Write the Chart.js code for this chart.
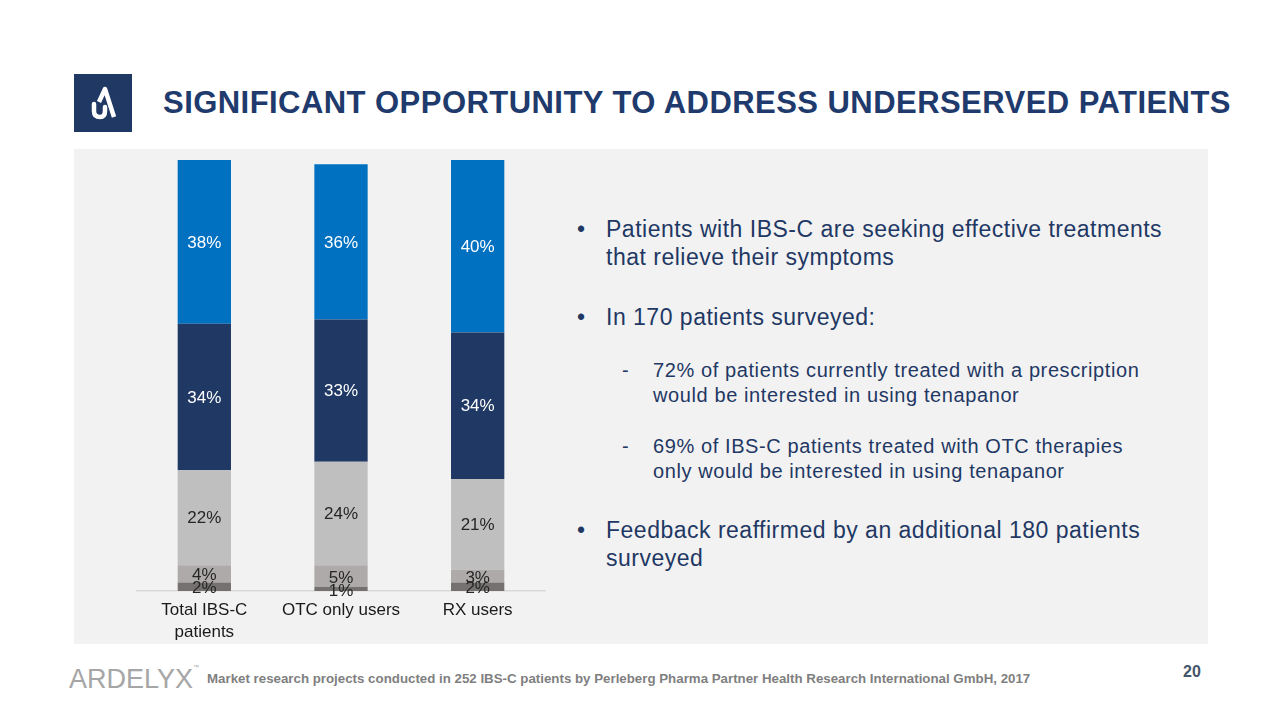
<!DOCTYPE html>
<html>
<head>
<meta charset="utf-8">
<script src="https://cdn.jsdelivr.net/npm/chart.js@4.4.1/dist/chart.umd.min.js"></script>
<style>
  body { margin: 0; width: 1280px; height: 720px; background: #ffffff; font-family: "Liberation Sans", Arial, sans-serif; position: relative; overflow: hidden; }
  .abs { position: absolute; }
  #panel { left: 74px; top: 149px; width: 1134px; height: 495px; background: #f2f2f2; }
  #title { left: 163px; top: 85px; font-size: 31px; font-weight: bold; color: #1f3a6c; white-space: nowrap; letter-spacing: 0.45px; }
  #logo { left: 74px; top: 74px; width: 58px; height: 58px; background: #1f3864; }
  #chartBox { left: 136px; top: 160px; width: 410px; height: 485px; }
  .bul { color: #1f3864; font-size: 23px; line-height: 28px; letter-spacing: 0.5px; left: 606px; width: 580px; }
  .bul::before { content: "\2022"; position: absolute; left: -29px; }
  .sub { color: #1f3864; font-size: 20px; line-height: 25px; letter-spacing: 0.6px; left: 653px; width: 500px; }
  .sub::before { content: "-"; position: absolute; left: -31px; }
  #foot { left: 207px; top: 671px; font-size: 13.3px; font-weight: bold; color: #7f7f7f; white-space: nowrap; }
  #page { left: 1183px; top: 663px; font-size: 16px; font-weight: bold; color: #44546a; }
  #ardelyx { left: 69px; top: 664px; font-size: 27px; color: #a6a6a6; }
</style>
</head>
<body>
<div id="panel" class="abs"></div>
<div id="logo" class="abs">
  <svg width="58" height="58" viewBox="0 0 58 58">
    <path d="M20 30 L20 37 Q20 43 26 43 Q31 43 31 37 L31 33" fill="none" stroke="#fff" stroke-width="4.5" stroke-linecap="round"/>
    <path d="M25 28 L31 15 L40 43" fill="none" stroke="#fff" stroke-width="4.5" stroke-linejoin="round"/>
  </svg>
</div>
<div id="title" class="abs">SIGNIFICANT OPPORTUNITY TO ADDRESS UNDERSERVED PATIENTS</div>

<div id="chartBox" class="abs"><canvas id="chart"></canvas></div>

<div class="abs bul" style="top:215px">Patients with IBS-C are seeking effective treatments that relieve their symptoms</div>
<div class="abs bul" style="top:303px">In 170 patients surveyed:</div>
<div class="abs sub" style="top:358px">72% of patients currently treated with a prescription would be interested in using tenapanor</div>
<div class="abs sub" style="top:434px">69% of IBS-C patients treated with OTC therapies only would be interested in using tenapanor</div>
<div class="abs bul" style="top:516px">Feedback reaffirmed by an additional 180 patients surveyed</div>

<div id="ardelyx" class="abs">ARDELYX<span style="font-size:6px;vertical-align:top">™</span></div>
<div id="foot" class="abs">Market research projects conducted in 252 IBS-C patients by Perleberg Pharma Partner Health Research International GmbH, 2017</div>
<div id="page" class="abs">20</div>

<script>
// categories and stacked segment values (bottom to top), in percent
const categories = [['Total IBS-C', 'patients'], 'OTC only users', 'RX users'];
const seg1 = [2, 1, 2];
const seg2 = [4, 5, 3];
const seg3 = [22, 24, 21];
const seg4 = [34, 33, 34];
const seg5 = [38, 36, 40];

const segColors = ['#767171', '#aeaaaa', '#bfbfbf', '#1f3864', '#0070c0'];
const labelColors = ['#262626', '#262626', '#262626', '#ffffff', '#ffffff'];

// draws the % value in the middle of each segment
const segLabels = {
    id: 'segLabels',
    afterDatasetsDraw(chart) {
        const ctx = chart.ctx;
        ctx.save();
        ctx.font = '17px "Liberation Sans", Arial, sans-serif';
        ctx.textAlign = 'center';
        ctx.textBaseline = 'middle';
        chart.data.datasets.forEach((ds, i) => {
            const meta = chart.getDatasetMeta(i);
            meta.data.forEach((bar, j) => {
                ctx.fillStyle = labelColors[i];
                const off = i < 2 ? 2 : 1; // tiny segments sit a bit lower in the original
                ctx.fillText(ds.data[j] + '%', bar.x, (bar.y + bar.base) / 2 + off);
            });
        });
        ctx.restore();
    }
};

const ctx = document.getElementById('chart').getContext('2d');
const chart = new Chart(ctx, {
    type: 'bar',
    data: {
        labels: categories,
        datasets: [seg1, seg2, seg3, seg4, seg5].map((d, i) => ({
            label: 'Segment ' + (i + 1),
            data: d,
            backgroundColor: segColors[i],
            borderWidth: 0,
            categoryPercentage: 1,
            barPercentage: 0.39
        }))
    },
    options: {
        responsive: true,
        maintainAspectRatio: false,
        animation: false,
        layout: { padding: 0 },
        scales: {
            x: {
                stacked: true,
                grid: { display: false },
                border: { display: true, color: '#d9d9d9', width: 1.5 },
                ticks: {
                    color: '#1a1a1a',
                    padding: 1,
                    font: { family: '"Liberation Sans", Arial, sans-serif', size: 17, lineHeight: 1.25 }
                },
                afterFit(scale) { scale.height = 54; }
            },
            y: {
                stacked: true,
                display: false,
                min: 0,
                max: 100
            }
        },
        plugins: {
            legend: { display: false },
            tooltip: { enabled: false }
        }
    },
    plugins: [segLabels]
});
</script>
</body>
</html>
